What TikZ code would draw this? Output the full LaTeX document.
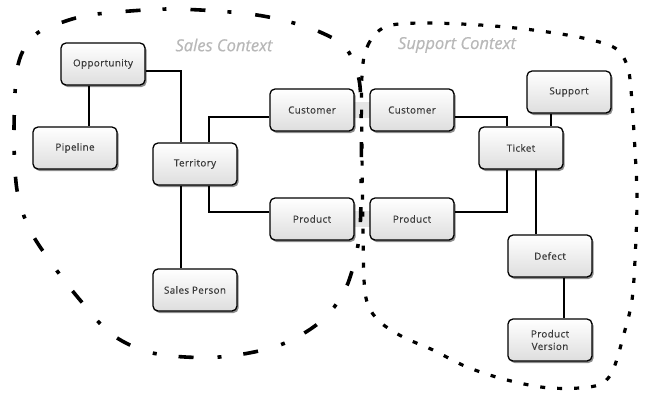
\documentclass[tikz,border=0pt]{standalone}
\usepackage{fontspec}
\setmainfont{Open Sans}
\newfontfamily\boxfont{Open Sans}[LetterSpace=4,FakeBold=0.4]
\newfontfamily\lblfont{Open Sans}[FakeBold=0.6]
\usetikzlibrary{shadows}
\definecolor{txtgrey}{HTML}{3A3A3A}
\definecolor{lblgrey}{HTML}{B8B8B8}
\tikzset{
  entity/.style={draw=black, line width=1.3pt, rounded corners=5pt,
    minimum width=84pt, minimum height=42pt, inner sep=2pt,
    top color=white, bottom color=black!13,
    drop shadow={shadow xshift=1.6pt, shadow yshift=-2pt, opacity=0.45, fill=black},
    font=\boxfont\fontsize{9.8}{12.5}\selectfont, text=txtgrey, align=center},
  conn/.style={line width=1.2pt, draw=black},
  salesb/.style={line width=3.6pt, draw=black, dash pattern=on 15pt off 22pt on 4pt off 24pt},
  suppb/.style={line width=3.2pt, draw=black, dash pattern=on 5pt off 12pt},
  ctxlabel/.style={font=\lblfont\itshape\fontsize{16.5}{20}\selectfont, text=lblgrey},
  band/.style={fill=black!10, draw=none}
}
\begin{document}
\begin{tikzpicture}[x=1pt,y=-1pt]
\useasboundingbox (0,0) rectangle (650,400);
% bridging bands
\fill[band] (352,102) rectangle (372,118);
\fill[band] (352,211) rectangle (372,227);
% boundaries
\draw[salesb] plot[smooth cycle, tension=0.55] coordinates {
 (17,190) (14,130) (18,65) (35,35) (63,22) (90,15) (130,11) (170,9) (217,11)
 (257,15) (290,22) (320,32) (345,47) (358,75) (361,110) (361,200) (358,245)
 (345,290) (320,322) (280,345) (230,356) (185,357) (145,351) (110,333)
 (80,300) (55,268) (30,230)};
\draw[suppb] plot[smooth cycle, tension=0.55] coordinates {
 (362,75) (368,45) (385,27) (420,23) (480,25) (533,30) (583,38) (615,48)
 (627,65) (631,90) (635,150) (637,200) (635,260) (632,300) (625,330)
 (612,372) (595,386) (550,388) (507,380) (467,367) (433,350) (403,337)
 (380,322) (368,305) (364,280) (363,230) (362,150)};
% labels
\node[ctxlabel] (lsales) at (224,45) {Sales Context};
\node[ctxlabel] (lsupp) at (457,45) {Support Context};
% entities
\node[entity] (opp) at (103,64) {Opportunity};
\node[entity] (pip) at (75,148) {Pipeline};
\node[entity] (ter) at (195,164) {Territory};
\node[entity] (cus1) at (312,110) {Customer};
\node[entity] (cus2) at (412,110) {Customer};
\node[entity] (sup) at (569,92) {Support};
\node[entity] (tic) at (521,148) {Ticket};
\node[entity] (prod1) at (312,219) {Product};
\node[entity] (prod2) at (412,219) {Product};
\node[entity] (sp) at (195,290) {Sales Person};
\node[entity] (def) at (550,256) {Defect};
\node[entity] (pv) at (550,340) {Product\\Version};
% connectors
\draw[conn] ([yshift=-7pt]opp.east) -| ([xshift=-14pt]ter.north);
\draw[conn] ([xshift=-14pt]opp.south) -- ([xshift=14pt]pip.north);
\draw[conn] ([xshift=14pt]ter.north) |- ([yshift=-7pt]cus1.west);
\draw[conn] ([xshift=-14pt]ter.south) -- ([xshift=-14pt]sp.north);
\draw[conn] ([xshift=14pt]ter.south) |- ([yshift=7pt]prod1.west);
\draw[conn] ([yshift=-7pt]cus2.east) -| ([xshift=-14pt]tic.north);
\draw[conn] ([xshift=-18pt]sup.south) -- ([xshift=30pt]tic.north);
\draw[conn] ([xshift=-14pt]tic.south) |- ([yshift=7pt]prod2.east);
\draw[conn] ([xshift=15pt]tic.south) -- ([xshift=-14pt]def.north);
\draw[conn] ([xshift=14pt]def.south) -- ([xshift=14pt]pv.north);
\end{tikzpicture}
\end{document}
